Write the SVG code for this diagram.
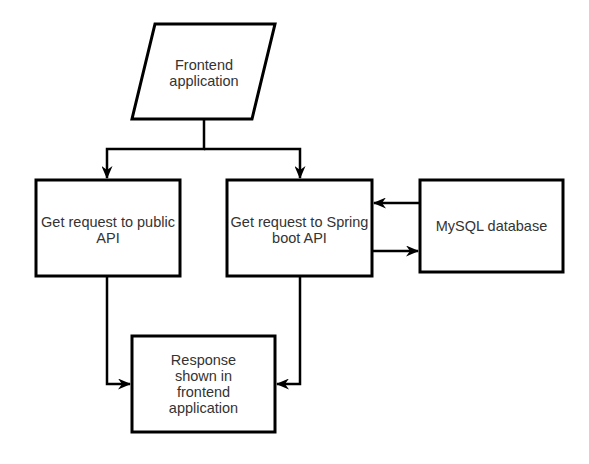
<svg xmlns="http://www.w3.org/2000/svg" width="589" height="464" viewBox="0 0 589 464">
<defs>
<style>
.shape{fill:#ffffff;stroke:#000000;stroke-width:3}
.edge{fill:none;stroke:#000000;stroke-width:2.5}
.label{font-family:"Liberation Sans",Arial,sans-serif;font-size:14.5px;fill:#333333;text-anchor:middle}
</style>
<marker id="arrow" viewBox="0 0 13 11" refX="12" refY="5.5" markerWidth="13" markerHeight="11" markerUnits="userSpaceOnUse" orient="auto">
<path d="M0,0 L13,5.5 L0,11 L4,5.5 Z" fill="#000000"/>
</marker>
</defs>
<rect width="589" height="464" fill="#ffffff"/>
<g id="connectors">
<path class="edge" d="M204,119 V149 H107 V178" marker-end="url(#arrow)"/>
<path class="edge" d="M204,149 H300 V178" marker-end="url(#arrow)"/>
<path class="edge" d="M420,203 H374" marker-end="url(#arrow)"/>
<path class="edge" d="M372,251 H418" marker-end="url(#arrow)"/>
<path class="edge" d="M107,276 V384 H130" marker-end="url(#arrow)"/>
<path class="edge" d="M300,276 V384 H277" marker-end="url(#arrow)"/>
</g>
<g id="frontend">
<polygon class="shape" points="155,24 275,24 252,119 132,119"/>
<text class="label" x="204" y="70">Frontend</text>
<text class="label" x="204" y="86">application</text>
</g>
<g id="public-api">
<rect class="shape" x="36" y="180" width="144" height="96"/>
<text class="label" x="108" y="227">Get request to public</text>
<text class="label" x="108" y="243">API</text>
</g>
<g id="spring-api">
<rect class="shape" x="227" y="180" width="145" height="96"/>
<text class="label" x="299.5" y="227">Get request to Spring</text>
<text class="label" x="299.5" y="243">boot API</text>
</g>
<g id="mysql">
<rect class="shape" x="420" y="180" width="143" height="92"/>
<text class="label" x="491.5" y="231">MySQL database</text>
</g>
<g id="response">
<rect class="shape" x="132" y="336" width="143" height="96"/>
<text class="label" x="203.5" y="365">Response</text>
<text class="label" x="203.5" y="381">shown in</text>
<text class="label" x="203.5" y="397">frontend</text>
<text class="label" x="203.5" y="413">application</text>
</g>
</svg>
